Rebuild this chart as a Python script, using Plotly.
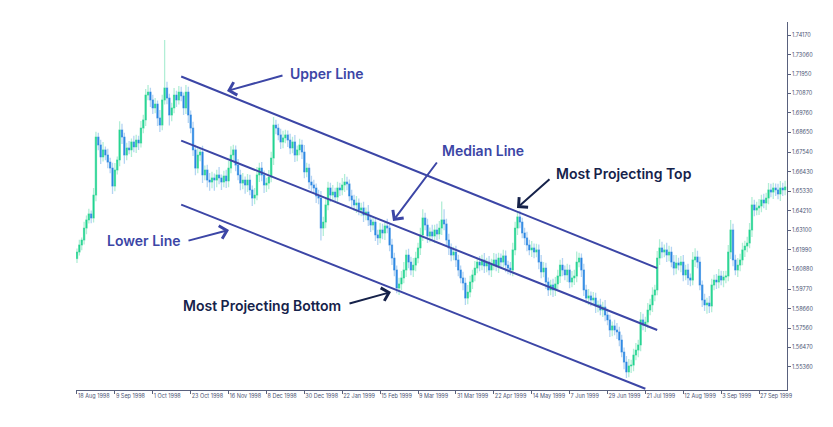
import pandas as pd
import plotly.graph_objects as go

# ---- data ----
first_open = 1.6150
closes = [
 1.6187,1.6227,1.6255,1.6323,1.6369,1.6403,1.6380,1.6510,1.6839,1.6794,
 1.6726,1.6766,1.6737,1.6697,1.6663,1.6561,1.6652,1.6709,1.6879,1.6839,
 1.6737,1.6777,1.6766,1.6811,1.6783,1.6822,1.6805,1.6890,1.6936,1.7077,
 1.7094,1.7049,1.7004,1.7026,1.6947,1.6907,1.7049,1.7117,1.7060,1.6964,
 1.7004,1.7077,1.7049,1.7094,1.7072,1.7004,1.7094,1.6964,1.6890,1.6766,
 1.6663,1.6737,1.6754,1.6624,1.6652,1.6595,1.6584,1.6607,1.6595,1.6624,
 1.6607,1.6584,1.6618,1.6590,1.6663,1.6737,1.6766,1.6680,1.6624,1.6578,
 1.6595,1.6567,1.6595,1.6539,1.6493,1.6510,1.6624,1.6663,1.6624,1.6567,
 1.6578,1.6612,1.6720,1.6907,1.6890,1.6851,1.6811,1.6834,1.6851,1.6822,
 1.6777,1.6811,1.6737,1.6766,1.6794,1.6754,1.6641,1.6663,1.6584,1.6567,
 1.6550,1.6505,1.6493,1.6323,1.6357,1.6454,1.6550,1.6510,1.6527,1.6499,
 1.6550,1.6539,1.6567,1.6584,1.6573,1.6505,1.6482,1.6454,1.6465,1.6425,
 1.6437,1.6397,1.6414,1.6369,1.6340,1.6357,1.6284,1.6267,1.6312,1.6295,
 1.6335,1.6323,1.6227,1.6153,1.6085,1.5983,1.6006,1.6040,1.6085,1.6170,
 1.6130,1.6085,1.6113,1.6153,1.6210,1.6284,1.6380,1.6340,1.6278,1.6301,
 1.6278,1.6312,1.6289,1.6323,1.6369,1.6346,1.6255,1.6210,1.6170,1.6187,
 1.6142,1.6085,1.6040,1.6011,1.5926,1.5960,1.6017,1.6057,1.6096,1.6130,
 1.6113,1.6142,1.6108,1.6130,1.6085,1.6119,1.6142,1.6108,1.6153,1.6130,
 1.6165,1.6113,1.6096,1.6085,1.6199,1.6323,1.6386,1.6357,1.6295,1.6267,
 1.6227,1.6199,1.6210,1.6187,1.6199,1.6130,1.6074,1.6096,1.6017,1.5972,
 1.6000,1.5972,1.6006,1.6051,1.6113,1.6085,1.6057,1.6085,1.6017,1.6040,
 1.6051,1.6130,1.6153,1.6085,1.5972,1.5926,1.5938,1.5915,1.5926,1.5881,
 1.5887,1.5858,1.5875,1.5830,1.5802,1.5745,1.5768,1.5745,1.5734,1.5688,
 1.5620,1.5563,1.5507,1.5541,1.5546,1.5603,1.5631,1.5660,1.5802,1.5773,
 1.5790,1.5858,1.5887,1.5943,1.5972,1.6153,1.6210,1.6187,1.6199,1.6170,
 1.6187,1.6130,1.6096,1.6125,1.6113,1.6130,1.6057,1.6085,1.6040,1.6028,
 1.6142,1.6159,1.6130,1.6000,1.5915,1.5887,1.5898,1.5881,1.6000,1.6028,
 1.6017,1.6051,1.6028,1.6045,1.6051,1.6187,1.6312,1.6142,1.6085,1.6113,
 1.6142,1.6199,1.6221,1.6238,1.6312,1.6454,1.6425,1.6437,1.6448,1.6482,
 1.6465,1.6493,1.6539,1.6527,1.6550,1.6539,1.6516,1.6550,1.6539,1.6556,
]
wick_up = [
 .0020,.0030,.0015,.0035,.0025,.0030,.0020,.0040,.0030,.0025,
 .0030,.0045,.0020,.0035,.0025,.0030,.0040,.0020,.0050,.0035,
 .0025,.0030,.0040,.0020,.0035,.0030,.0025,.0040,.0030,.0035,
 .0040,.0025,.0030,.0035,.0020,.0045,.0030,.0272,.0035,.0025,
 .0030,.0040,.0025,.0035,.0030,.0020,.0040,.0030,.0025,.0035,
 .0030,.0040,.0020,.0035,.0025,.0030,.0040,.0035,.0025,.0030,
 .0045,.0020,.0030,.0035,.0040,.0050,.0030,.0025,.0035,.0030,
 .0040,.0020,.0035,.0030,.0025,.0040,.0045,.0030,.0035,.0025,
 .0030,.0040,.0035,.0045,.0030,.0025,.0035,.0040,.0030,.0025,
 .0035,.0030,.0040,.0025,.0035,.0030,.0040,.0030,.0025,.0035,
 .0030,.0025,.0035,.0040,.0030,.0045,.0035,.0030,.0040,.0025,
 .0035,.0030,.0040,.0045,.0030,.0025,.0035,.0030,.0040,.0025,
 .0030,.0035,.0025,.0040,.0030,.0035,.0025,.0030,.0040,.0035,
 .0030,.0040,.0025,.0035,.0030,.0025,.0035,.0040,.0045,.0030,
 .0035,.0030,.0040,.0035,.0030,.0040,.0050,.0030,.0035,.0025,
 .0040,.0030,.0035,.0040,.0105,.0060,.0030,.0035,.0025,.0030,
 .0035,.0030,.0025,.0035,.0030,.0040,.0035,.0030,.0040,.0025,
 .0035,.0030,.0040,.0025,.0035,.0030,.0040,.0035,.0030,.0025,
 .0035,.0030,.0025,.0035,.0040,.0035,.0030,.0035,.0025,.0030,
 .0035,.0030,.0040,.0025,.0035,.0030,.0040,.0035,.0030,.0025,
 .0030,.0035,.0040,.0035,.0030,.0040,.0025,.0035,.0030,.0040,
 .0035,.0060,.0030,.0025,.0035,.0030,.0040,.0025,.0035,.0030,
 .0025,.0035,.0030,.0040,.0035,.0030,.0025,.0035,.0040,.0030,
 .0030,.0025,.0035,.0040,.0030,.0035,.0040,.0030,.0045,.0035,
 .0030,.0040,.0035,.0045,.0030,.0040,.0050,.0035,.0030,.0040,
 .0035,.0030,.0040,.0045,.0030,.0035,.0040,.0030,.0035,.0025,
 .0045,.0050,.0035,.0030,.0025,.0035,.0030,.0040,.0035,.0030,
 .0035,.0040,.0030,.0035,.0030,.0040,.0057,.0035,.0030,.0040,
 .0035,.0040,.0030,.0035,.0040,.0045,.0030,.0035,.0040,.0030,
 .0035,.0030,.0040,.0035,.0030,.0025,.0035,.0040,.0030,.0035,
]
wick_dn = [
 .0025,.0020,.0030,.0025,.0035,.0020,.0030,.0025,.0035,.0030,
 .0040,.0025,.0030,.0035,.0030,.0045,.0030,.0025,.0035,.0040,
 .0050,.0030,.0025,.0040,.0030,.0035,.0040,.0025,.0030,.0035,
 .0030,.0040,.0035,.0030,.0045,.0040,.0030,.0025,.0035,.0060,
 .0035,.0030,.0040,.0025,.0030,.0040,.0035,.0045,.0030,.0035,
 .0040,.0030,.0035,.0045,.0030,.0040,.0050,.0035,.0060,.0040,
 .0035,.0045,.0030,.0040,.0035,.0030,.0040,.0035,.0030,.0040,
 .0035,.0050,.0040,.0030,.0045,.0035,.0030,.0040,.0035,.0045,
 .0040,.0035,.0030,.0040,.0035,.0030,.0040,.0035,.0030,.0040,
 .0035,.0030,.0040,.0035,.0030,.0040,.0035,.0030,.0040,.0035,
 .0030,.0040,.0035,.0070,.0045,.0035,.0030,.0040,.0035,.0030,
 .0040,.0035,.0030,.0040,.0035,.0030,.0040,.0035,.0045,.0030,
 .0035,.0040,.0030,.0035,.0040,.0030,.0035,.0040,.0030,.0035,
 .0040,.0030,.0035,.0040,.0035,.0030,.0040,.0035,.0030,.0040,
 .0035,.0030,.0040,.0035,.0030,.0040,.0035,.0030,.0040,.0035,
 .0030,.0040,.0035,.0030,.0040,.0035,.0030,.0040,.0035,.0030,
 .0040,.0035,.0030,.0040,.0040,.0035,.0030,.0040,.0035,.0030,
 .0035,.0030,.0040,.0035,.0030,.0040,.0035,.0030,.0040,.0035,
 .0030,.0040,.0035,.0030,.0035,.0030,.0040,.0035,.0030,.0040,
 .0035,.0030,.0040,.0035,.0030,.0040,.0035,.0030,.0040,.0035,
 .0030,.0040,.0035,.0030,.0040,.0035,.0030,.0040,.0035,.0030,
 .0040,.0035,.0030,.0040,.0035,.0030,.0040,.0035,.0030,.0040,
 .0035,.0030,.0040,.0035,.0030,.0040,.0035,.0030,.0040,.0035,
 .0030,.0040,.0034,.0030,.0040,.0035,.0030,.0040,.0035,.0030,
 .0040,.0035,.0030,.0040,.0035,.0030,.0040,.0035,.0030,.0040,
 .0035,.0030,.0040,.0035,.0030,.0040,.0035,.0030,.0040,.0035,
 .0030,.0040,.0035,.0030,.0040,.0035,.0050,.0040,.0035,.0030,
 .0040,.0035,.0030,.0040,.0035,.0030,.0040,.0035,.0030,.0040,
 .0035,.0030,.0040,.0035,.0030,.0040,.0035,.0030,.0040,.0035,
 .0030,.0040,.0035,.0030,.0040,.0035,.0030,.0040,.0035,.0030,
]

x_tick_dates = ["1998-08-18","1998-09-09","1998-10-01","1998-10-23","1998-11-16",
                "1998-12-08","1998-12-30","1999-01-22","1999-02-15","1999-03-09",
                "1999-03-31","1999-04-22","1999-05-14","1999-06-07","1999-06-29",
                "1999-07-21","1999-08-12","1999-09-03","1999-09-27"]
x_tick_labels = ["18 Aug 1998","9 Sep 1998","1 Oct 1998","23 Oct 1998","16 Nov 1998",
                 "8 Dec 1998","30 Dec 1998","22 Jan 1999","15 Feb 1999","9 Mar 1999",
                 "31 Mar 1999","22 Apr 1999","14 May 1999","7 Jun 1999","29 Jun 1999",
                 "21 Jul 1999","12 Aug 1999","3 Sep 1999","27 Sep 1999"]
y_tick_vals = [1.74170,1.73060,1.71950,1.70870,1.69760,1.68650,1.67540,1.66430,1.65330,
               1.64210,1.63100,1.61990,1.60880,1.59770,1.58660,1.57560,1.56470,1.55360]

# channel lines: (start bar, end bar), (start price, end price)
upper_bars, upper_prices = [44, 245], [1.7182, 1.6096]
median_bars, median_prices = [44, 245], [1.6819, 1.5745]
lower_bars, lower_prices = [44, 240], [1.6456, 1.5412]

# ---- derived ----
dates = pd.bdate_range("1998-08-18", periods=len(closes), freq="C",
                       holidays=["1999-01-01"]).strftime("%Y-%m-%d").tolist()
opens = [first_open] + closes[:-1]
highs = [max(o, c) + w for o, c, w in zip(opens, closes, wick_up)]
lows = [min(o, c) - w for o, c, w in zip(opens, closes, wick_dn)]
body_hi = [max(o, c) for o, c in zip(opens, closes)]
body_lo = [min(o, c) for o, c in zip(opens, closes)]

GREEN, BLUE = "#22d491", "#2a86e3"
PALE_G, PALE_B = "#b2eed6", "#b4d4f3"
CH = "#3c46a6"
NAVY = "#16224a"

fig = go.Figure()
fig.add_trace(go.Candlestick(
    x=dates, open=opens, high=highs, low=lows, close=closes,
    increasing=dict(line=dict(color=PALE_G, width=1.3), fillcolor=PALE_G),
    decreasing=dict(line=dict(color=PALE_B, width=1.3), fillcolor=PALE_B),
    hoverinfo="skip", showlegend=False))
fig.add_trace(go.Candlestick(
    x=dates, open=opens, high=body_hi, low=body_lo, close=closes,
    increasing=dict(line=dict(color=GREEN, width=0.5), fillcolor=GREEN),
    decreasing=dict(line=dict(color=BLUE, width=0.5), fillcolor=BLUE),
    showlegend=False))

for bars, prices in [(upper_bars, upper_prices), (median_bars, median_prices),
                     (lower_bars, lower_prices)]:
    fig.add_trace(go.Scatter(x=[dates[b] for b in bars], y=prices, mode="lines",
                             line=dict(color=CH, width=2), hoverinfo="skip",
                             showlegend=False))

L, R, T, B = 76, 787, 22, 390
def px(xp):
    return (xp - L) / (R - L)
def py(yp):
    return (B - yp) / (B - T)

labels = [
    ("Upper Line", 326.5, 73, CH),
    ("Median Line", 482.5, 150, CH),
    ("Most Projecting Top", 624, 173, NAVY),
    ("Lower Line", 144, 241, CH),
    ("Most Projecting Bottom", 261.5, 305, NAVY),
]
arrows = [  # head x, head y, tail dx, tail dy, colour
    (227, 91, 57, -16, CH),
    (393, 221, 45, -60, CH),
    (517, 208, 34, -30, NAVY),
    (229, 230, -42, 11, CH),
    (391, 292, -43, 12, NAVY),
]
anns = []
for t, xp, yp, col in labels:
    anns.append(dict(text=t, x=px(xp), y=py(yp), xref="paper", yref="paper",
                     showarrow=False, xanchor="center", yanchor="middle",
                     font=dict(family="Inter", size=14, color=col, weight=600)))
for hx, hy, dx, dy, col in arrows:
    anns.append(dict(text="", x=px(hx), y=py(hy), xref="paper", yref="paper",
                     showarrow=True, ax=dx, ay=dy, arrowhead=4, arrowsize=1.3,
                     arrowwidth=2, arrowcolor=col))

fig.update_layout(
    width=833, height=427,
    margin=dict(l=L, r=833 - R, t=T, b=427 - B),
    paper_bgcolor="white", plot_bgcolor="white",
    showlegend=False, annotations=anns,
    xaxis=dict(type="category", range=[-0.42, 299.8], rangeslider=dict(visible=False),
               showgrid=False, zeroline=False, showline=True, linecolor="#59617d",
               linewidth=1, ticks="outside", ticklen=3, tickcolor="#59617d",
               tickvals=x_tick_dates, ticktext=x_tick_labels, tickangle=0,
               ticklabelposition="outside right",
               tickfont=dict(family="Inter", size=5.5, color="#4b5474")),
    yaxis=dict(side="right", range=[1.54047, 1.74913], showgrid=False, zeroline=False,
               showline=True, linecolor="#59617d", linewidth=1, ticks="outside",
               ticklen=3, tickcolor="#59617d", tickvals=y_tick_vals, tickformat=".5f",
               tickfont=dict(family="Inter", size=5.5, color="#4b5474")),
)
fig.write_html("out.html")
